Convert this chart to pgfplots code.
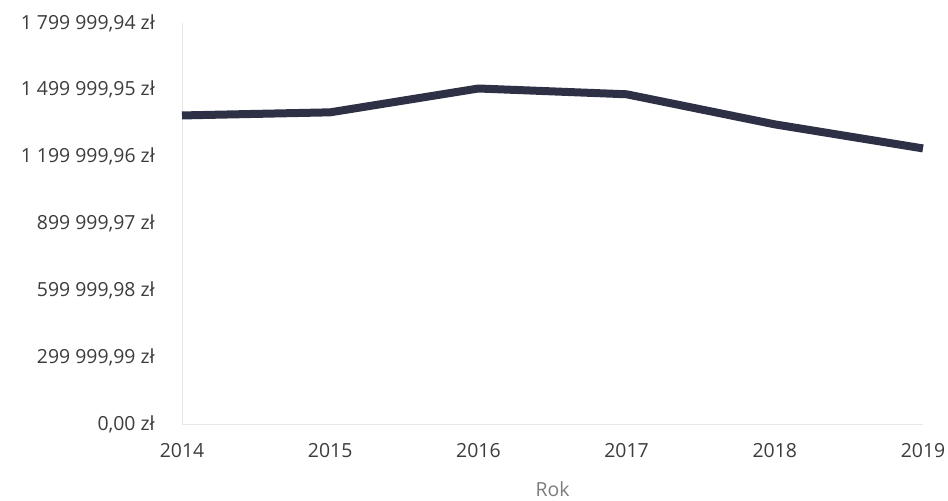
\documentclass[border=0pt]{standalone}
\usepackage{fontspec}
\setmainfont{Open Sans}
\usepackage{pgfplots}
\pgfplotsset{compat=1.18}
\definecolor{linec}{RGB}{46,49,70}
\definecolor{txt}{RGB}{60,60,60}
\definecolor{lbl}{RGB}{125,125,125}
\definecolor{axl}{RGB}{232,232,232}
\begin{document}
\begin{tikzpicture}
\begin{axis}[
  scale only axis,
  width=741bp, height=401bp,
  xmin=2014, xmax=2019,
  ymin=0, ymax=1799999.94,
  scaled y ticks=false,
  axis lines=left,
  axis line style={draw=axl, line width=0.8pt, -},
  major tick length=0pt,
  xtick={2014,2015,2016,2017,2018,2019},
  xticklabels={2014,2015,2016,2017,2018,2019},
  ytick={0,299999.99,599999.98,899999.97,1199999.96,1499999.95,1799999.94},
  yticklabels={{0,00 zł},{299 999,99 zł},{599 999,98 zł},{899 999,97 zł},{1 199 999,96 zł},{1 499 999,95 zł},{1 799 999,94 zł}},
  ticklabel style={font=\fontsize{19.5}{22}\selectfont, text=txt, inner sep=0pt},
  yticklabel style={anchor=east, xshift=-27bp},
  xticklabel style={anchor=north, yshift=-19bp},
  xlabel={Rok},
  xlabel style={font=\fontsize{19.5}{22}\selectfont, text=lbl, inner sep=0pt, anchor=north, at={(axis description cs:0.5,0)}, yshift=-58bp},
  clip=false,
]
\addplot[draw=linec, line width=8bp, line join=round, line cap=butt] coordinates {
  (2014,1385000) (2015,1399000) (2016,1506000) (2017,1480000) (2018,1345000) (2019,1237000)
};
\end{axis}
\pgfresetboundingbox
\path (current axis.south west) ++(-182bp,-77bp) coordinate (bl);
\path (current axis.north east) ++(25bp,23bp) coordinate (tr);
\path[use as bounding box] (bl) rectangle (tr);
\end{tikzpicture}
\end{document}
